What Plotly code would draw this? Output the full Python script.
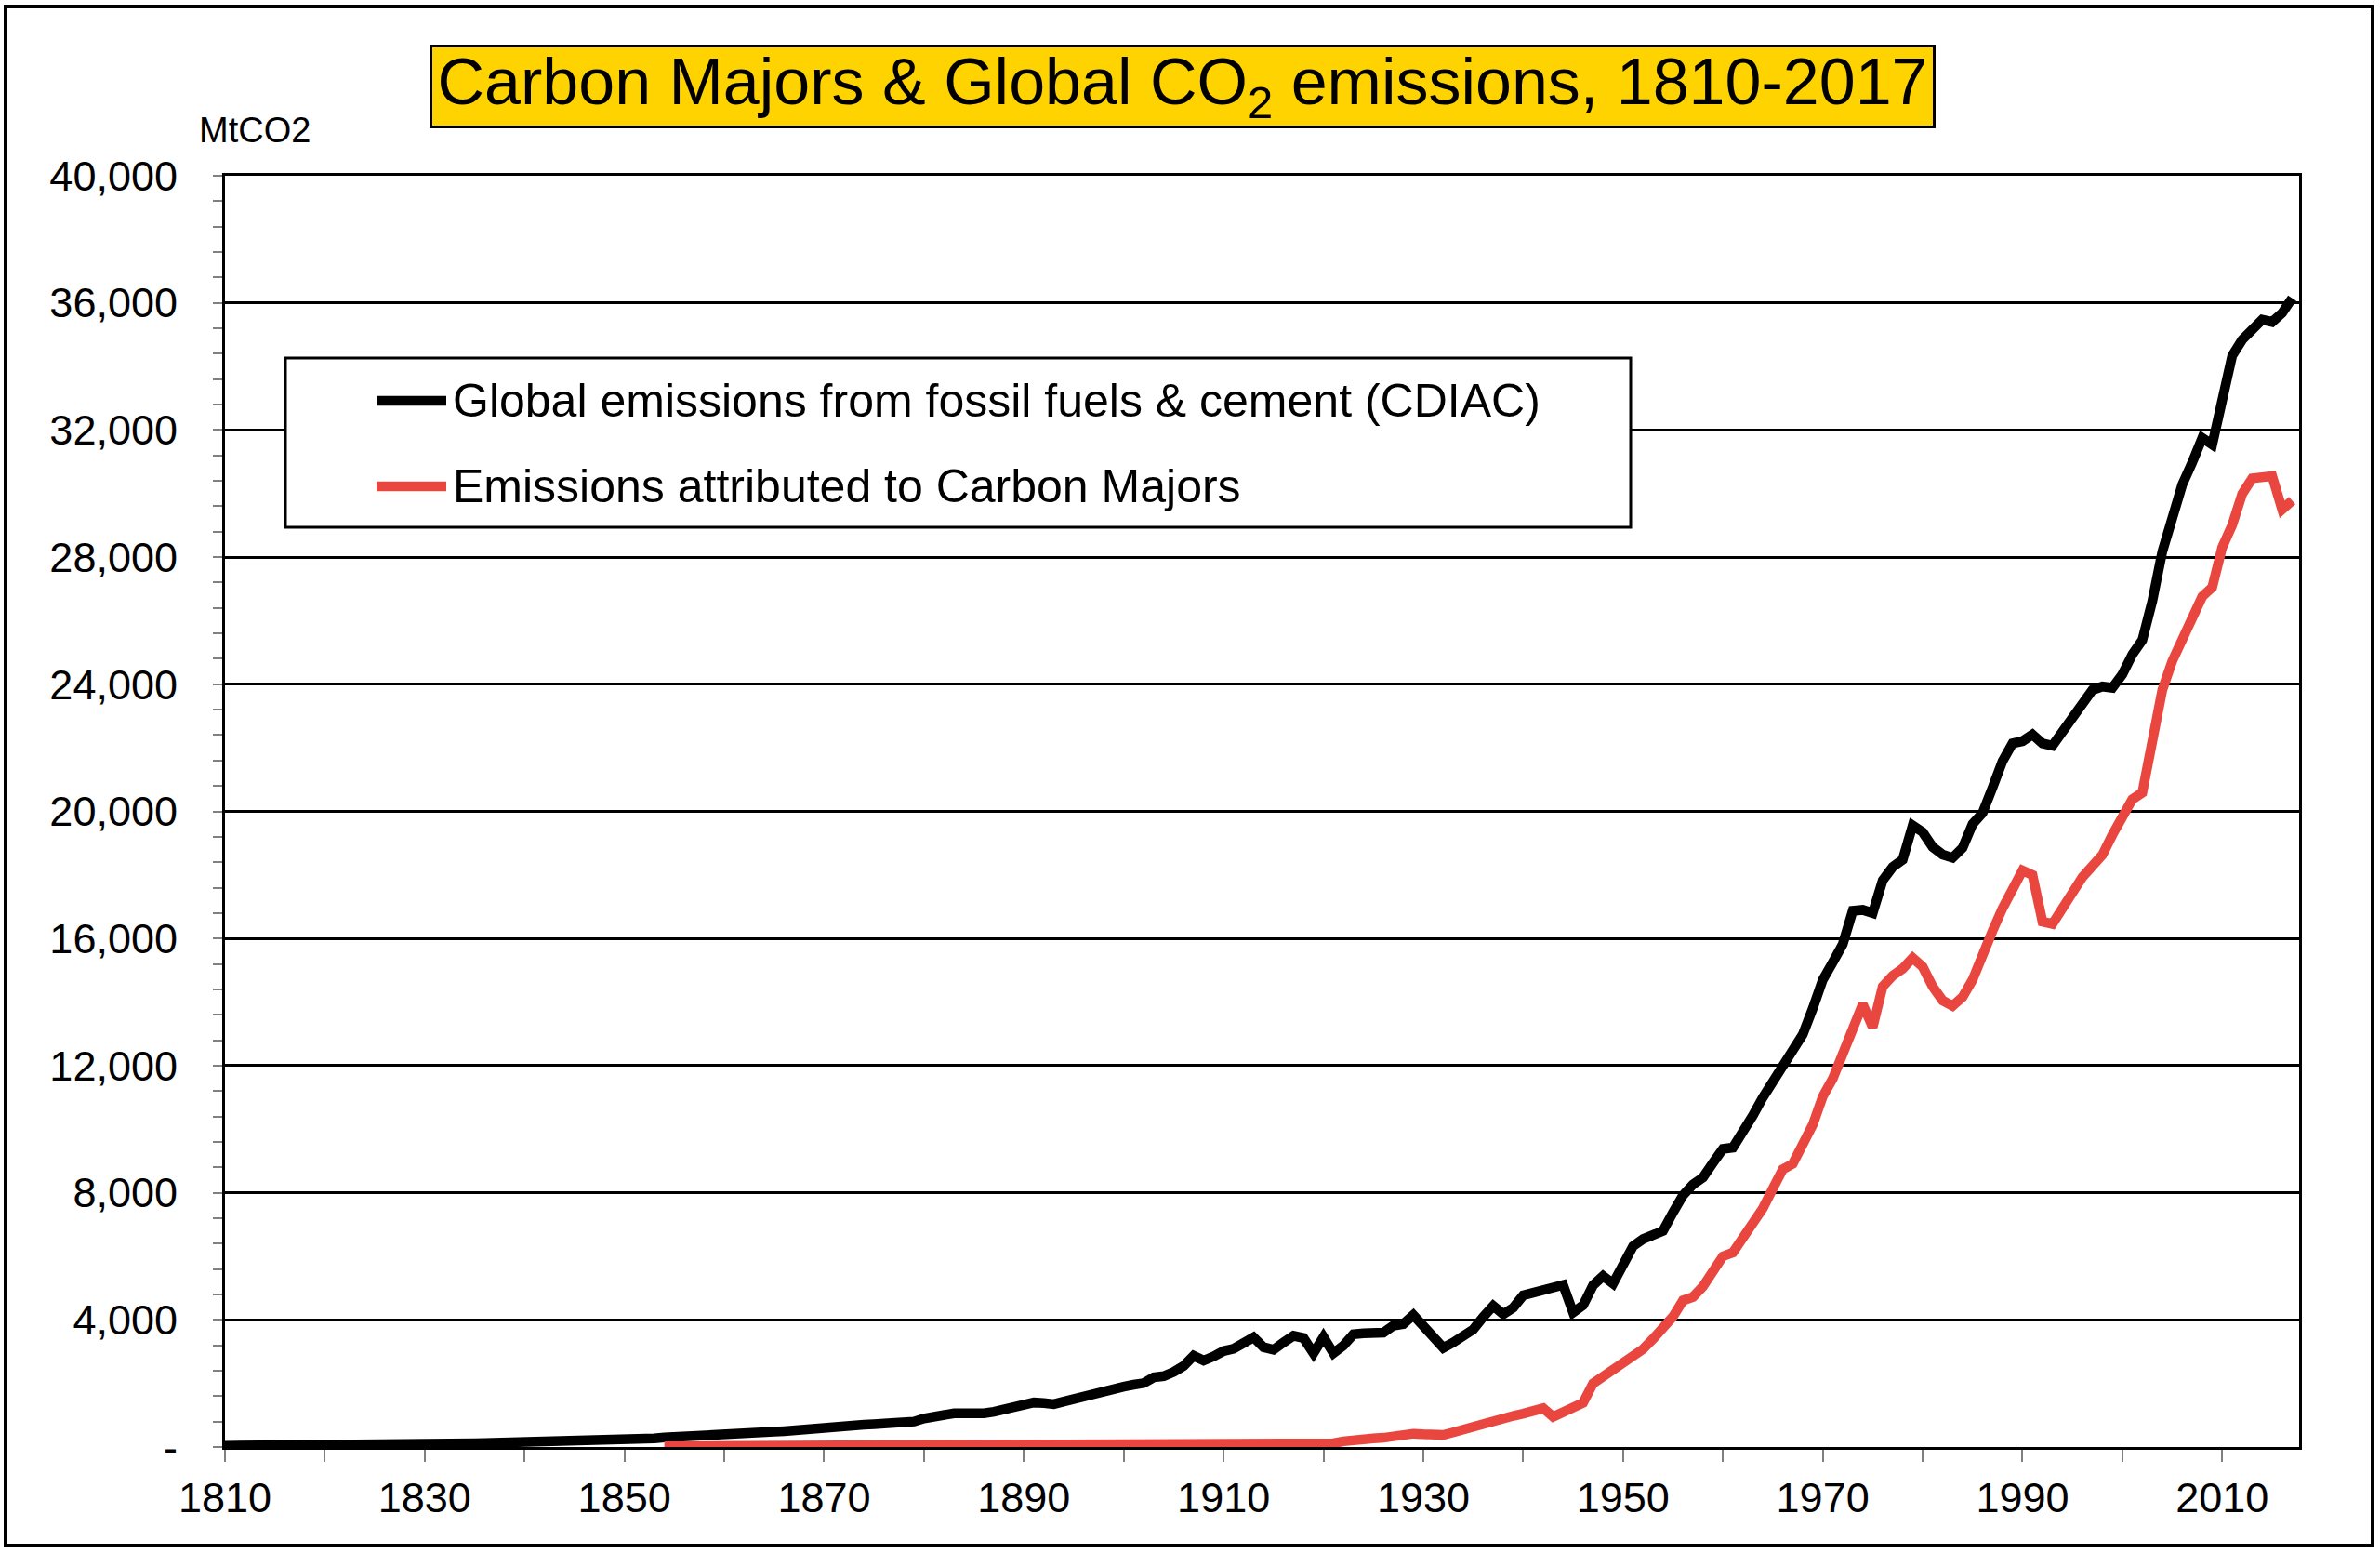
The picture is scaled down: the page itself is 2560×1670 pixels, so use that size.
import plotly.graph_objects as go

# ---------------- data ----------------
years = list(range(1810, 2018))

global_emissions = [
    # 1810-1819
    40, 40, 40, 42, 45, 48, 50, 52, 55, 55,
    # 1820-1829
    58, 60, 62, 65, 68, 72, 75, 80, 82, 85,
    # 1830-1839
    90, 95, 100, 105, 110, 115, 125, 130, 135, 140,
    # 1840-1849
    150, 155, 160, 165, 175, 185, 195, 205, 210, 215,
    # 1850-1859
    220, 235, 250, 270, 300, 310, 330, 340, 350, 360,
    # 1860-1869
    370, 390, 400, 430, 460, 480, 500, 530, 540, 570,
    # 1870-1879
    590, 630, 690, 740, 700, 720, 730, 740, 740, 800,
    # 1880-1889
    900, 960, 1010, 1060, 1060, 1050, 1060, 1110, 1200, 1250,
    # 1890-1899
    1380, 1400, 1380, 1350, 1430, 1520, 1560, 1640, 1730, 1880,
    # 1900-1909
    1900, 1960, 2010, 2190, 2230, 2360, 2550, 2870, 2720, 2850,
    # 1910-1919
    3020, 3090, 3240, 3450, 3140, 3060, 3290, 3500, 3430, 2950,
    # 1920-1929
    3460, 2950, 3190, 3550, 3580, 3600, 3600, 3820, 3870, 4150,
    # 1930-1939
    3820, 3480, 3120, 3290, 3500, 3700, 4090, 4440, 4180, 4380,
    # 1940-1949
    4770, 4860, 4940, 5040, 5100, 4230, 4460, 5090, 5380, 5140,
    # 1950-1959
    5800, 6320, 6540, 6680, 6800, 7380, 7920, 8260, 8480, 8940,
    # 1960-1969
    9380, 9420, 9880, 10430, 11000, 11470, 11960, 12390, 12980, 13800,
    # 1970-1979
    14700, 15250, 15820, 16870, 16900, 16800, 17830, 18250, 18480, 19560,
    # 1980-1989
    19350, 18880, 18640, 18540, 18850, 19600, 19950, 20750, 21580, 22140,
    # 1990-1999
    22210, 22420, 22140, 22070, 22490, 22910, 23400, 23820, 23930, 23890,
    # 2000-2009
    24310, 24940, 25390, 26620, 28170, 29290, 30280, 30980, 31750, 31540,
    # 2010-2017
    33080, 34340, 34840, 35160, 35470, 35400, 35680, 36150,
]

carbon_majors = [None] * 44 + [
    # 1854-1859
    20, 25, 30, 30, 35, 35,
    # 1860-1869
    40, 40, 40, 45, 45, 45, 50, 50, 50, 50,
    # 1870-1879
    55, 55, 55, 55, 55, 55, 55, 55, 55, 55,
    # 1880-1889
    60, 60, 60, 60, 60, 60, 60, 60, 60, 60,
    # 1890-1899
    65, 65, 65, 65, 65, 65, 70, 70, 70, 70,
    # 1900-1909
    75, 75, 75, 75, 80, 80, 80, 85, 85, 85,
    # 1910-1919
    90, 90, 95, 95, 95, 100, 100, 105, 110, 110,
    # 1920-1929
    130, 120, 180, 230, 250, 270, 290, 340, 380, 420,
    # 1930-1939
    400, 380, 380, 460, 560, 650, 740, 850, 900, 980,
    # 1940-1949
    1050, 1130, 1220, 950, 1080, 1230, 1390, 2000, 2220, 2430,
    # 1950-1959
    2700, 2950, 3080, 3400, 3710, 4100, 4610, 4720, 5050, 5560,
    # 1960-1969
    6000, 6120, 6560, 7010, 7510, 8130, 8740, 8910, 9530, 10140,
    # 1970-1979
    11030, 11590, 12370, 13150, 13930, 13210, 14490, 14830, 15050, 15390,
    # 1980-1989
    15110, 14490, 14050, 13880, 14160, 14700, 15540, 16240, 16950, 17510,
    # 1990-1999
    18140, 18000, 16530, 16460, 17020, 17440, 17930, 18280, 18630, 19260,
    # 2000-2009
    19820, 20380, 20590, 22280, 23820, 24730, 25360, 25990, 26760, 27050,
    # 2010-2017
    28310, 29010, 29990, 30480, 30480, 30550, 29500, 29780,
]

series_names = [
    "Global emissions from fossil fuels & cement (CDIAC)",
    "Emissions attributed to Carbon Majors",
]
title_text = "Carbon Majors & Global CO<sub>2</sub> emissions, 1810-2017"
unit_label = "MtCO2"

# ---------------- layout geometry ----------------
W, H = 2560, 1670
L, R, T, B = 242, 87, 189, 114
PW = W - L - R
PH = H - T - B


def px(x):
    return (x - L) / PW


def py(y):
    return (H - B - y) / PH


FONT = "Liberation Sans, Arial, sans-serif"
BLACK_C = "#000000"
RED_C = "#E8463E"
TICK_C = "#808080"
LW = 10.5

fig = go.Figure()
fig.add_trace(go.Scatter(
    x=years, y=global_emissions, mode="lines", name=series_names[0],
    line=dict(color=BLACK_C, width=LW), showlegend=False,
))
fig.add_trace(go.Scatter(
    x=years, y=carbon_majors, mode="lines", name=series_names[1],
    line=dict(color=RED_C, width=LW), showlegend=False, connectgaps=False,
))

shapes = [
    # outer frame
    dict(type="rect", xref="paper", yref="paper",
         x0=px(6), x1=px(2552), y0=py(1662), y1=py(7),
         line=dict(color="black", width=4), fillcolor="rgba(0,0,0,0)", layer="above"),
    # legend box
    dict(type="rect", xref="paper", yref="paper",
         x0=px(307), x1=px(1754), y0=py(567), y1=py(385),
         line=dict(color="black", width=3), fillcolor="white", layer="above"),
    dict(type="line", xref="paper", yref="paper",
         x0=px(405), x1=px(480), y0=py(431), y1=py(431),
         line=dict(color=BLACK_C, width=LW), layer="above"),
    dict(type="line", xref="paper", yref="paper",
         x0=px(405), x1=px(480), y0=py(523), y1=py(523),
         line=dict(color=RED_C, width=LW), layer="above"),
]

annotations = [
    dict(text=title_text, xref="paper", yref="paper", x=px(1272), y=py(93),
         xanchor="center", yanchor="middle", showarrow=False,
         font=dict(size=70, color="black", family=FONT),
         bgcolor="#FFD300", bordercolor="black", borderwidth=3, borderpad=0,
         width=1614, height=84),
    dict(text=unit_label, xref="paper", yref="paper", x=px(274), y=py(140),
         xanchor="center", yanchor="middle", showarrow=False,
         font=dict(size=38, color="black", family=FONT)),
    dict(text=series_names[0], xref="paper", yref="paper", x=px(485), y=py(431),
         xanchor="left", yanchor="middle", showarrow=False,
         font=dict(size=50, color="black", family=FONT)),
    dict(text=series_names[1], xref="paper", yref="paper", x=px(485), y=py(523),
         xanchor="left", yanchor="middle", showarrow=False,
         font=dict(size=50, color="black", family=FONT)),
]

fig.update_layout(
    width=W, height=H,
    margin=dict(l=L, r=R, t=T, b=B, pad=0),
    paper_bgcolor="white", plot_bgcolor="white",
    font=dict(family=FONT, color="black"),
    showlegend=False,
    shapes=shapes,
    annotations=annotations,
    xaxis=dict(
        range=[1810, 2017.7], tickmode="linear", tick0=1810, dtick=20,
        ticks="outside", ticklen=13, tickwidth=2, tickcolor=TICK_C,
        minor=dict(tick0=1810, dtick=10, ticks="outside", ticklen=13,
                   tickwidth=2, tickcolor=TICK_C, showgrid=False),
        showline=True, linecolor="black", linewidth=3, mirror=True,
        showgrid=False, zeroline=False,
        tickfont=dict(size=45, family=FONT, color="black"),
        ticklabelstandoff=0,
    ),
    yaxis=dict(
        range=[0, 40000], tickmode="linear", tick0=0, dtick=4000,
        tickformat=",d", labelalias={"0": "-"},
        ticks="outside", ticklen=10, tickwidth=2, tickcolor=TICK_C,
        minor=dict(tick0=0, dtick=800, ticks="outside", ticklen=10,
                   tickwidth=2, tickcolor=TICK_C, showgrid=False),
        showgrid=True, gridcolor="black", gridwidth=3,
        showline=True, linecolor="black", linewidth=3, mirror=True,
        zeroline=False,
        tickfont=dict(size=45, family=FONT, color="black"),
        ticklabelstandoff=29,
    ),
)

fig.write_html(
    "out.html",
    config={"displayModeBar": False},
    post_script="document.body.style.margin='0';",
)
